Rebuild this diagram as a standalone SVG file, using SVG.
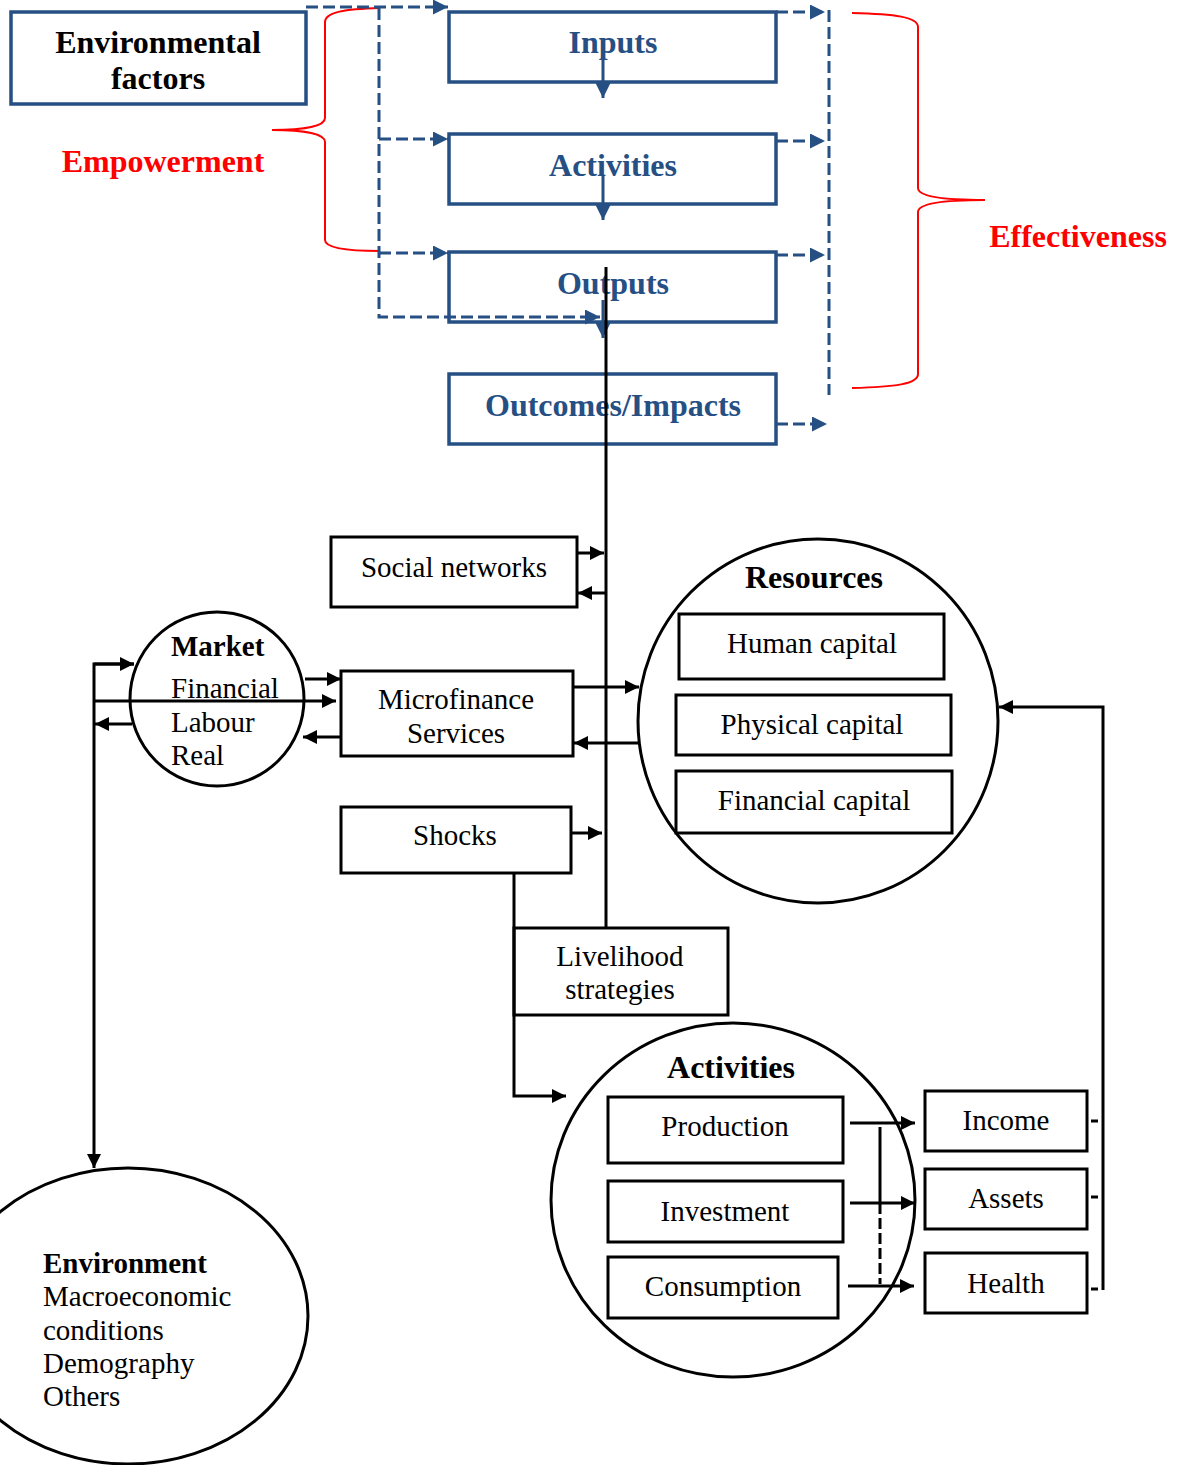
<svg xmlns="http://www.w3.org/2000/svg" width="1187" height="1465" viewBox="0 0 1187 1465">
<style>
  .bbox { fill: none; stroke: #264F84; stroke-width: 3.5; }
  .btxt { font-family: "Liberation Serif", "Times New Roman", serif; font-weight: bold; font-size: 32px; fill: #264F84; text-anchor: middle; }
  .ktxtb { font-family: "Liberation Serif", "Times New Roman", serif; font-weight: bold; font-size: 32px; fill: #000; text-anchor: middle; }
  .rtxt { font-family: "Liberation Serif", "Times New Roman", serif; font-weight: bold; font-size: 32px; fill: #FF0000; text-anchor: middle; }
  .ntxt { font-family: "Liberation Serif", "Times New Roman", serif; font-size: 29px; fill: #000; text-anchor: middle; }
  .ltxt { font-family: "Liberation Serif", "Times New Roman", serif; font-size: 29px; fill: #000; }
  .lbold { font-weight: bold; }
  .kbox { fill: #fff; stroke: #000; stroke-width: 3; }
  .kcirc { fill: none; stroke: #000; stroke-width: 3; }
  .brace { fill: none; stroke: #FF0000; stroke-width: 2; }
  .bdash { fill: none; stroke: #264F84; stroke-width: 3; stroke-dasharray: 12 5; }
  .bsolid { fill: none; stroke: #264F84; stroke-width: 3; }
  .ksolid { fill: none; stroke: #000; stroke-width: 3; }
  .kdash { fill: none; stroke: #000; stroke-width: 3; stroke-dasharray: 11 4; }
</style>
<defs>
  <marker id="ab" viewBox="0 0 15 15" refX="15" refY="7.5" markerWidth="15" markerHeight="15" markerUnits="userSpaceOnUse" orient="auto">
    <path d="M0,0 L15,7.5 L0,15 z" fill="#264F84"/>
  </marker>
  <marker id="ak" viewBox="0 0 14 14" refX="14" refY="7" markerWidth="14" markerHeight="14" markerUnits="userSpaceOnUse" orient="auto">
    <path d="M0,0 L14,7 L0,14 z" fill="#000"/>
  </marker>
</defs>

<!-- Top section nodes -->
<g id="env-factors">
  <rect class="bbox" x="11" y="12" width="295" height="92"/>
  <text class="ktxtb" x="158" y="53">Environmental</text>
  <text class="ktxtb" x="158" y="89">factors</text>
</g>
<g id="inputs">
  <rect class="bbox" x="449" y="12" width="327" height="70"/>
  <text class="btxt" x="613" y="53">Inputs</text>
</g>
<g id="activities-top">
  <rect class="bbox" x="449" y="134" width="327" height="70"/>
  <text class="btxt" x="613" y="176">Activities</text>
</g>
<g id="outputs">
  <rect class="bbox" x="449" y="252" width="327" height="70"/>
  <text class="btxt" x="613" y="294">Outputs</text>
</g>
<g id="outcomes">
  <rect class="bbox" x="449" y="374" width="327" height="70"/>
  <text class="btxt" x="613" y="416">Outcomes/Impacts</text>
</g>
<g id="empowerment">
  <path class="brace" d="M380,8 C345,9 325,12 325,22 L325,118 C325,126 305,130 272,130 C305,130 325,134 325,142 L325,240 C325,248 345,251 380,251"/>
  <text class="rtxt" x="163" y="172">Empowerment</text>
</g>
<g id="effectiveness">
  <path class="brace" d="M852,13 C895,14 918,17 918,27 L918,188 C918,196 940,200 985,200 C940,200 918,204 918,212 L918,374 C918,384 895,387 852,388"/>
  <text class="rtxt" x="1078" y="247">Effectiveness</text>
</g>

<!-- Lower section nodes -->
<g id="social-networks">
  <rect class="kbox" x="331" y="537" width="246" height="70"/>
  <text class="ntxt" x="454" y="577">Social networks</text>
</g>
<g id="market">
  <circle class="kcirc" cx="217" cy="699" r="87"/>
  <text class="ltxt lbold" x="171" y="656">Market</text>
  <text class="ltxt" x="171" y="698">Financial</text>
  <text class="ltxt" x="171" y="732">Labour</text>
  <text class="ltxt" x="171" y="765">Real</text>
</g>
<g id="microfinance">
  <rect class="kbox" x="341" y="671" width="232" height="85"/>
  <text class="ntxt" x="456" y="709">Microfinance</text>
  <text class="ntxt" x="456" y="743">Services</text>
</g>
<g id="shocks">
  <rect class="kbox" x="341" y="807" width="230" height="66"/>
  <text class="ntxt" x="455" y="845">Shocks</text>
</g>
<g id="resources">
  <ellipse class="kcirc" cx="818" cy="721" rx="180" ry="182"/>
  <text class="ktxtb" x="814" y="588">Resources</text>
  <rect class="kbox" x="679" y="614" width="265" height="65"/>
  <text class="ntxt" x="812" y="653">Human capital</text>
  <rect class="kbox" x="676" y="695" width="275" height="60"/>
  <text class="ntxt" x="812" y="734">Physical capital</text>
  <rect class="kbox" x="676" y="771" width="276" height="62"/>
  <text class="ntxt" x="814" y="810">Financial capital</text>
</g>
<g id="livelihood">
  <rect class="kbox" x="514" y="928" width="214" height="87"/>
  <text class="ntxt" x="620" y="966">Livelihood</text>
  <text class="ntxt" x="620" y="999">strategies</text>
</g>
<g id="activities">
  <ellipse class="kcirc" cx="733" cy="1200" rx="182" ry="177"/>
  <text class="ktxtb" x="731" y="1078">Activities</text>
  <rect class="kbox" x="608" y="1097" width="235" height="66"/>
  <text class="ntxt" x="725" y="1136">Production</text>
  <rect class="kbox" x="608" y="1181" width="235" height="61"/>
  <text class="ntxt" x="725" y="1221">Investment</text>
  <rect class="kbox" x="608" y="1257" width="230" height="61"/>
  <text class="ntxt" x="723" y="1296">Consumption</text>
</g>
<g id="income">
  <rect class="kbox" x="925" y="1091" width="162" height="60"/>
  <text class="ntxt" x="1006" y="1130">Income</text>
</g>
<g id="assets">
  <rect class="kbox" x="925" y="1169" width="162" height="60"/>
  <text class="ntxt" x="1006" y="1208">Assets</text>
</g>
<g id="health">
  <rect class="kbox" x="925" y="1253" width="162" height="60"/>
  <text class="ntxt" x="1006" y="1293">Health</text>
</g>
<g id="environment">
  <ellipse class="kcirc" cx="128" cy="1316" rx="180" ry="148"/>
  <text class="ltxt lbold" x="43" y="1273">Environment</text>
  <text class="ltxt" x="43" y="1306">Macroeconomic</text>
  <text class="ltxt" x="43" y="1340">conditions</text>
  <text class="ltxt" x="43" y="1373">Demography</text>
  <text class="ltxt" x="43" y="1406">Others</text>
</g>

<!-- Connectors -->
<g id="connectors">
  <!-- blue top -->
  <path class="bdash" d="M306,7 H448" marker-end="url(#ab)"/>
  <path class="bdash" d="M379,8 V317 H600" marker-end="url(#ab)"/>
  <path class="bdash" d="M379,139 H448" marker-end="url(#ab)"/>
  <path class="bdash" d="M379,253 H448" marker-end="url(#ab)"/>
  <path class="bsolid" d="M603,57 V98" marker-end="url(#ab)"/>
  <path class="bsolid" d="M603,176 V220" marker-end="url(#ab)"/>
  <path class="bsolid" d="M603,300 V338" marker-end="url(#ab)"/>
  <path class="bdash" d="M776,12 H825" marker-end="url(#ab)"/>
  <path class="bdash" d="M776,141 H825" marker-end="url(#ab)"/>
  <path class="bdash" d="M776,255 H825" marker-end="url(#ab)"/>
  <path class="bdash" d="M776,424 H827" marker-end="url(#ab)"/>
  <path class="bdash" d="M829,10 V395"/>
  <!-- black main -->
  <path class="ksolid" d="M606,267 V928"/>
  <path class="ksolid" d="M577,553 H604" marker-end="url(#ak)"/>
  <path class="ksolid" d="M606,593 H578" marker-end="url(#ak)"/>
  <path class="ksolid" d="M573,687 H639" marker-end="url(#ak)"/>
  <path class="ksolid" d="M638,743 H574" marker-end="url(#ak)"/>
  <path class="ksolid" d="M571,833 H602" marker-end="url(#ak)"/>
  <path class="ksolid" d="M514,873 V1096 H566" marker-end="url(#ak)"/>
  <path class="ksolid" d="M305,679 H341" marker-end="url(#ak)"/>
  <path class="ksolid" d="M341,737 H303" marker-end="url(#ak)"/>
  <path class="ksolid" d="M134,664 H94 V1168" marker-end="url(#ak)"/>
  <path class="ksolid" d="M94,664 H134" marker-end="url(#ak)"/>
  <path class="ksolid" d="M94,701 H336" marker-end="url(#ak)"/>
  <path class="ksolid" d="M132,724 H95" marker-end="url(#ak)"/>
  <!-- activities to outcomes -->
  <path class="ksolid" d="M850,1123 H915" marker-end="url(#ak)"/>
  <path class="ksolid" d="M850,1203 H915" marker-end="url(#ak)"/>
  <path class="ksolid" d="M848,1286 H914" marker-end="url(#ak)"/>
  <path class="ksolid" d="M880,1127 V1203"/>
  <path class="kdash" d="M880,1203 V1284"/>
  <!-- feedback -->
  <path class="ksolid" d="M1091,1121 H1098"/>
  <path class="ksolid" d="M1091,1197 H1098"/>
  <path class="ksolid" d="M1091,1289 H1098"/>
  <path class="ksolid" d="M1103,1290 V707 H999" marker-end="url(#ak)"/>
</g>
</svg>
